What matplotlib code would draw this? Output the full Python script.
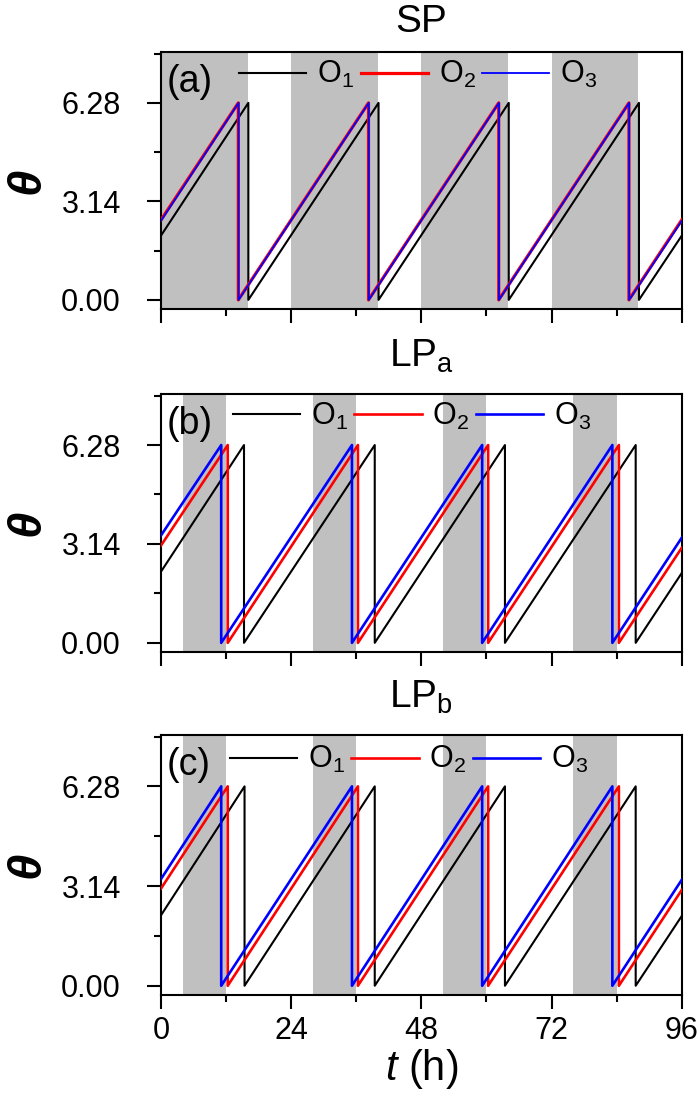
#%%
import numpy as np
import matplotlib
matplotlib.use("Agg")
import matplotlib.pyplot as plt

plt.rcParams['font.family'] = ['Liberation Sans', 'DejaVu Sans']
plt.rcParams['mathtext.fontset'] = 'custom'
plt.rcParams['mathtext.rm'] = 'Liberation Sans'
plt.rcParams['mathtext.it'] = 'Liberation Sans:italic'
plt.rcParams['mathtext.bf'] = 'Liberation Sans:bold'

#%%
# data
titles = ['SP', 'LP$_\\mathrm{a}$', 'LP$_\\mathrm{b}$']
panel_tags = ['(a)', '(b)', '(c)']
series_names = ['O$_1$', 'O$_2$', 'O$_3$']
series_colors = ['black', 'red', 'blue']

# dark intervals (h)
dark_a = [(0, 16), (24, 40), (48, 64), (72, 88)]
dark_b = [(4, 12), (28, 36), (52, 60), (76, 84)]
dark_c = [(4, 12), (28, 36), (52, 60), (76, 84)]

# phase resets (h) and phase at t=0 / t=96
reset_a1 = [16.1, 40.1, 64.1, 88.1]
reset_a2 = [14.25, 38.25, 62.25, 86.25]
reset_a3 = [14.3, 38.3, 62.3, 86.3]
start_a = [2.05, 2.55, 2.52]
end_a = [2.05, 2.55, 2.52]

reset_b1 = [15.3, 39.4, 63.4, 87.5]
reset_b2 = [12.3, 36.3, 60.3, 84.4]
reset_b3 = [11.1, 35.2, 59.2, 83.2]
start_b = [2.26, 3.09, 3.41]
end_b = [2.22, 3.02, 3.34]

reset_c1 = [15.4, 39.4, 63.4, 87.5]
reset_c2 = [12.3, 36.3, 60.3, 84.4]
reset_c3 = [11.1, 35.2, 59.2, 83.2]
start_c = [2.22, 3.06, 3.36]
end_c = [2.20, 3.02, 3.34]

theta_max = 6.28
t_end = 96

#%%
def sawtooth(resets, start, end):
    t = [0]
    y = [start]
    for r in resets:
        t += [r, r]
        y += [theta_max, 0]
    t.append(t_end)
    y.append(end)
    return t, y

panels = [
    (dark_a, [reset_a1, reset_a2, reset_a3], start_a, end_a),
    (dark_b, [reset_b1, reset_b2, reset_b3], start_b, end_b),
    (dark_c, [reset_c1, reset_c2, reset_c3], start_c, end_c),
]

axes_pos = [
    [0.23, 0.7173, 0.744, 0.2351],
    [0.23, 0.4035, 0.744, 0.2360],
    [0.23, 0.0897, 0.744, 0.2379],
]
title_y = [1.078, 1.105, 1.104]
legend_x = [0.150, 0.138, 0.132]
legend_y = [0.911, 0.915, 0.904]
widths = [[1.5, 2.3, 1.3], [1.5, 1.9, 1.9], [1.5, 1.9, 1.9]]

fig = plt.figure(figsize=(7, 10.93), dpi=100)

for i, (dark, resets, starts, ends) in enumerate(panels):
    ax = fig.add_axes(axes_pos[i])
    for a, b in dark:
        ax.axvspan(a, b, color='#c0c0c0', lw=0, zorder=0)
    for k in range(3):
        t, y = sawtooth(resets[k], starts[k], ends[k])
        ax.plot(t, y, color=series_colors[k], lw=widths[i][k],
                label=series_names[k], zorder=2 + k)

    ax.set_xlim(0, 96)
    ax.set_ylim(-0.29, 7.9)
    ax.set_xticks([0, 24, 48, 72, 96])
    ax.set_xticks([12, 36, 60, 84], minor=True)
    ax.set_yticks([0, 3.14, 6.28])
    ax.set_yticks([1.57, 4.71, 7.85], minor=True)
    ax.set_yticklabels(['0.00', '3.14', '6.28'])
    ax.tick_params(which='major', direction='out', length=10, width=1.5,
                   labelsize=22, top=False, right=False)
    ax.tick_params(axis='y', which='major', pad=19)
    ax.tick_params(axis='x', which='major', pad=5)
    ax.tick_params(which='minor', direction='out', length=5, width=1.5,
                   top=False, right=False)
    if i < 2:
        ax.set_xticklabels([])
    for s in ax.spines.values():
        s.set_linewidth(1.5)

    ax.text(0.5, title_y[i], titles[i], transform=ax.transAxes,
            fontsize=28, ha='center', va='baseline')
    ax.set_ylabel('θ', fontsize=34, style='italic', fontweight='bold')
    ax.yaxis.set_label_coords(-0.215, 0.5)

    ax.text(0.01, 0.885, panel_tags[i], transform=ax.transAxes,
            fontsize=27, ha='left', va='center')
    ax.legend(loc='center left', bbox_to_anchor=(legend_x[i], legend_y[i]),
              ncol=3, frameon=False, fontsize=22, handlelength=2.2,
              handletextpad=0.35, columnspacing=0.22, borderpad=0,
              borderaxespad=0)

    if i == 2:
        ax.set_xlabel('$t$ (h)', fontsize=30)
        ax.xaxis.set_label_coords(0.5, -0.2)

plt.savefig('out.png', dpi=100)
